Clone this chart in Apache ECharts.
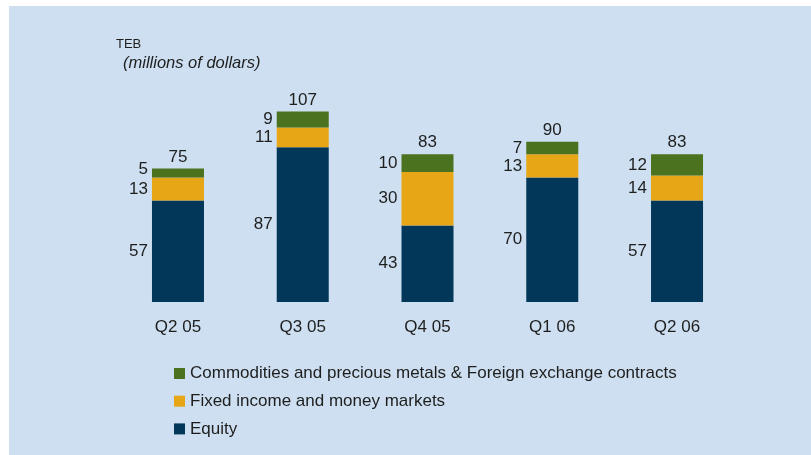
<!DOCTYPE html>
<html>
<head>
<meta charset="utf-8">
<script src="https://cdn.jsdelivr.net/npm/echarts@6/dist/echarts.min.js"></script>
<style>
html,body{margin:0;padding:0;background:#ffffff;width:811px;height:455px;overflow:hidden;}
#bg{position:absolute;left:9px;top:6px;right:0;bottom:0;background:#cddff0;}
#chart{position:absolute;left:0;top:0;width:811px;height:455px;}
</style>
</head>
<body>
<div id="bg"></div>
<div id="chart"></div>
<script>
const categories = ['Q2 05', 'Q3 05', 'Q4 05', 'Q1 06', 'Q2 06'];
const equity = [57, 87, 43, 70, 57];
const fixedIncome = [13, 11, 30, 13, 14];
const commodities = [5, 9, 10, 7, 12];
const totals = [75, 107, 83, 90, 83];
const seriesNames = [
  'Commodities and precious metals & Foreign exchange contracts',
  'Fixed income and money markets',
  'Equity'
];

const FONT = "'Liberation Sans', Arial, sans-serif";
const TXT = '#1e1e1e';
const segLabel = {
  show: true, position: 'left', distance: 4,
  fontSize: 17, color: TXT, fontFamily: FONT
};

const chart = echarts.init(document.getElementById('chart'), null, {renderer: 'canvas'});
chart.setOption({
  backgroundColor: 'transparent',
  animation: false,
  textStyle: {fontFamily: FONT},
  title: [
    {text: 'TEB', left: 116, top: 38, padding: 0,
     textStyle: {fontSize: 13, fontWeight: 'normal', color: TXT, fontFamily: FONT}},
    {text: '(millions of dollars)', left: 123, top: 55, padding: 0,
     textStyle: {fontSize: 16.5, fontWeight: 'normal', fontStyle: 'italic', color: TXT, fontFamily: FONT}}
  ],
  grid: {left: 115.6, right: 71.6, top: 88.4, bottom: 153},
  xAxis: {
    type: 'category', data: categories,
    axisLine: {show: false}, axisTick: {show: false},
    axisLabel: {fontSize: 17, color: TXT, margin: 17, fontFamily: FONT}
  },
  yAxis: {type: 'value', min: 0, max: 120, show: false, splitLine: {show: false}},
  legend: {
    orient: 'vertical', left: 174, top: 365, padding: 0,
    itemWidth: 11, itemHeight: 11, itemGap: 10.7, icon: 'rect',
    data: seriesNames,
    textStyle: {fontSize: 17, lineHeight: 16, color: TXT, fontFamily: FONT}
  },
  series: [
    {name: seriesNames[2], type: 'bar', stack: 's', barWidth: 52,
     itemStyle: {color: '#02375a'}, label: segLabel, data: equity},
    {name: seriesNames[1], type: 'bar', stack: 's', barWidth: 52,
     itemStyle: {color: '#e6a616'}, label: segLabel, data: fixedIncome},
    {name: seriesNames[0], type: 'bar', stack: 's', barWidth: 52,
     itemStyle: {color: '#4b721e'}, label: segLabel,
     data: commodities.map((v, i) => i === 0 ? {value: v, label: {offset: [0, -4]}} : v)},
    {name: 'total', type: 'bar', stack: 's', barWidth: 52, silent: true,
     itemStyle: {color: 'rgba(0,0,0,0)'},
     label: {show: true, position: 'top', distance: 3, fontSize: 17, color: TXT, fontFamily: FONT,
             formatter: p => String(totals[p.dataIndex])},
     data: totals.map(() => 0)}
  ]
});
</script>
</body>
</html>
